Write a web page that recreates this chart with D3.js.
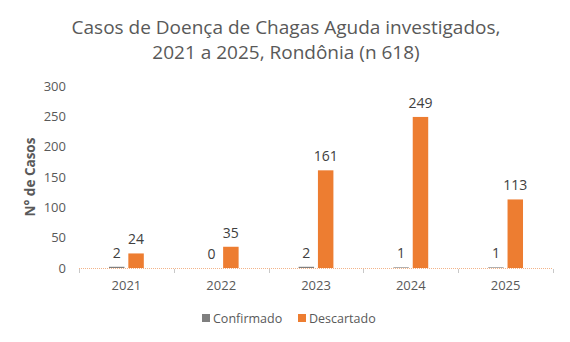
<!DOCTYPE html>
<html><head><meta charset="utf-8">
<script src="https://cdn.jsdelivr.net/npm/d3@7"></script>
<style>body{margin:0;background:#fff}svg{display:block}text{font-family:"Open Sans",sans-serif}</style>
</head><body><svg id="c" width="570" height="342"></svg>
<script>
const years = ["2021","2022","2023","2024","2025"];
const confirmado = [2,0,2,1,1];
const descartado = [24,35,161,249,113];
const seriesNames = ["Confirmado","Descartado"];
const colors = ["#7F7F7F","#ED7D31"];
const yTicks = [0,50,100,150,200,250,300];
const titleLines = ["Casos de Doença de Chagas Aguda investigados,","2021 a 2025, Rondônia (n 618)"];

const svg = d3.select("#c");
const m = {l:79, r:553, t:86, b:268};
const x = d3.scaleBand().domain(years).range([m.l,m.r]).paddingInner(0).paddingOuter(0);
const y = d3.scaleLinear().domain([0,300]).range([m.b,m.t]);
const x1 = d3.scaleBand().domain(seriesNames).range([0,x.bandwidth()]).paddingInner(0.2).paddingOuter(1.55);

svg.selectAll(".title").data(titleLines).join("text")
  .attr("x",286).attr("y",(d,i)=>34+i*25).attr("text-anchor","middle")
  .attr("font-size",19).attr("fill","#595959").text(d=>d);

const ya = svg.append("g").attr("transform",`translate(${m.l},0)`)
  .call(d3.axisLeft(y).tickValues(yTicks).tickSize(0).tickPadding(13));
ya.select(".domain").remove();
ya.selectAll("text").attr("font-size",13).attr("fill","#595959").attr("font-family","'Open Sans',sans-serif");

svg.append("text").attr("transform",`translate(35,${(m.t+m.b)/2}) rotate(-90)`)
  .attr("text-anchor","middle").attr("font-size",13.5).attr("font-weight","bold").attr("fill","#595959").text("N° de Casos");

const data = years.map((yr,i)=>({yr, vals:[confirmado[i],descartado[i]]}));
const g = svg.selectAll(".grp").data(data).join("g").attr("transform",d=>`translate(${x(d.yr)},0)`);
g.selectAll("rect").data(d=>d.vals.map((v,j)=>({v,s:seriesNames[j],j}))).join("rect")
  .attr("x",d=>x1(d.s)).attr("width",x1.bandwidth())
  .attr("y",d=>y(d.v)).attr("height",d=>y(0)-y(d.v)).attr("fill",d=>colors[d.j]);
g.selectAll(".lbl").data(d=>d.vals.map((v,j)=>({v,s:seriesNames[j],j}))).join("text")
  .attr("x",d=>x1(d.s)+x1.bandwidth()/2).attr("y",d=>y(d.v)-9).attr("text-anchor","middle")
  .attr("font-size",14).attr("fill","#404040").text(d=>d.v);

const xa = svg.append("g").attr("transform",`translate(0,${m.b})`)
  .call(d3.axisBottom(x).tickSize(0).tickPadding(13));
xa.select(".domain").remove();
xa.selectAll("text").attr("font-size",13).attr("fill","#595959").attr("font-family","'Open Sans',sans-serif");
svg.append("line").attr("x1",m.l).attr("x2",m.r).attr("y1",m.b+0.5).attr("y2",m.b+0.5)
  .attr("stroke","#F2B48A").attr("stroke-width",1).attr("stroke-dasharray","1,1");
svg.selectAll(".tk").data(years.concat(["end"])).join("line")
  .attr("x1",(d,i)=>Math.round(m.l+i*x.bandwidth())+0.5).attr("x2",(d,i)=>Math.round(m.l+i*x.bandwidth())+0.5)
  .attr("y1",m.b+1).attr("y2",m.b+5).attr("stroke","#C8C8C8");

const lg = svg.append("g");
const lx = [202,298];
seriesNames.forEach((s,i)=>{
  lg.append("rect").attr("x",lx[i]).attr("y",314).attr("width",8).attr("height",8).attr("fill",colors[i]);
  lg.append("text").attr("x",lx[i]+11).attr("y",323).attr("font-size",12.5).attr("fill","#595959").text(s);
});
</script></body></html>
